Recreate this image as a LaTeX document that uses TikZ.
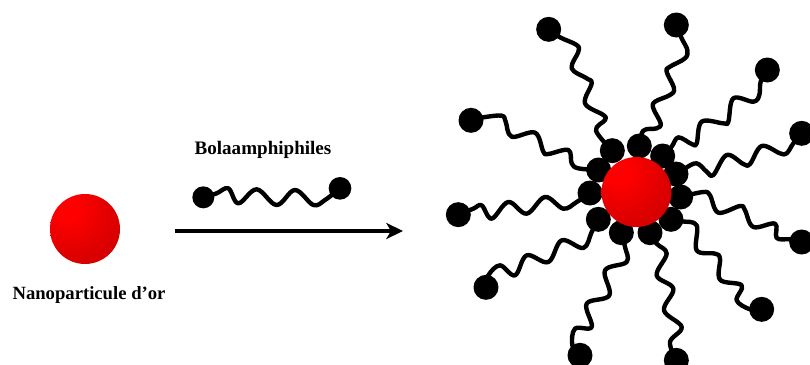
\documentclass[tikz,border=0pt]{standalone}
\usepackage{fontspec}
\setmainfont{Liberation Serif}
\usetikzlibrary{arrows.meta}
\pgfdeclarelayer{tails}
\pgfsetlayers{tails,main}
\definecolor{goldhi}{rgb}{1,0,0}
\definecolor{goldmid}{rgb}{0.88,0,0}
\definecolor{goldlo}{rgb}{0.78,0,0}
\pgfdeclareradialshading{goldball}{\pgfpoint{-14bp}{16bp}}{%
  color(0bp)=(goldhi);
  color(8bp)=(goldhi);
  color(28bp)=(goldmid);
  color(48bp)=(goldlo);
  color(100bp)=(goldlo)}
\tikzset{
  head/.style={circle,fill=black,inner sep=0pt,minimum size=#1},
  head/.default=18.75pt,
  gold/.style={circle,shading=goldball,inner sep=0pt,minimum size=52.5pt},
  tether/.style={line width=3.3pt,line join=round,line cap=round},
  label/.style={font=\bfseries\fontsize{#1}{#1}\selectfont,inner sep=0pt,anchor=center},
  fine/.style={x=.25pt,y=-.25pt}
}
\newcommand{\tether}[1]{%
  \begin{pgfonlayer}{tails}
    \draw[tether] plot[smooth,tension=.6] coordinates {#1};
  \end{pgfonlayer}}
\begin{document}
\begin{tikzpicture}[x=.75pt,y=-.75pt]
  \clip (0,0) rectangle (810,364);

  % free nanoparticle and its caption
  \node[gold] (np) at (85,229) {};
  \node[label=14] (npl) at (89,295) {Nanoparticule d'or};
  \node[label=14.3] (bl) at (263,149.5) {Bolaamphiphiles};

  % reaction arrow
  \coordinate (ra) at (175,231);
  \coordinate (rb) at (403,231);
  \draw[line width=3.3pt,-{Stealth[length=12.5pt,width=12pt,inset=3.5pt]}] (ra) -- (rb);

  % single bolaamphiphile
  \begin{scope}[shift={(0,130)},fine]
    \node[head=16.5pt] (la) at (610,202) {};
    \node[head=17pt] (lb) at (1020,175) {};
    \tether{(la) (650,190) (685,175) (715,220) (770,178) (830,225) (885,180) (940,225) (975,210) (lb)}
  \end{scope}

  % upper half of the coated particle
  \begin{scope}[shift={(440,0)},fine]
    \node[head] (sa) at (517,452) {};
    \node[head] (sb) at (598,438) {};
    \node[head] (sc) at (668,468) {};
    \node[head] (sd) at (708,522) {};
    \node[head] (se) at (476,510) {};
    \node[head] (ha) at (326,88) {};
    \node[head] (hb) at (709,75) {};
    \node[head] (hc) at (982,210) {};
    \node[head] (hd) at (1085,400) {};
    \node[head] (he) at (93,361) {};
    \tether{(ha) (360,112) (410,135) (415,155) (395,205) (440,235) (455,250) (435,310) (490,345) (495,360) (468,392) (sa)}
    \tether{(hb) (725,115) (742,150) (735,175) (690,200) (680,215) (702,265) (690,285) (645,305) (640,325) (662,370) (650,385) (610,392) (sb)}
    \tether{(hc) (962,245) (958,285) (940,305) (880,295) (865,365) (850,370) (785,365) (770,430) (755,432) (715,412) (695,440) (sc)}
    \tether{(hd) (1060,430) (1040,460) (1020,460) (965,438) (930,492) (910,492) (860,465) (820,525) (800,515) (770,490) (735,505) (sd)}
    \tether{(he) (130,352) (185,347) (197,365) (215,410) (285,398) (310,455) (325,462) (385,450) (395,490) (415,505) (se)}
  \end{scope}

  % lower half of the coated particle
  \begin{scope}[shift={(440,182)},fine]
    \node[head] (sf) at (722,45) {};
    \node[head] (sg) at (693,112) {};
    \node[head] (sh) at (630,152) {};
    \node[head] (si) at (544,152) {};
    \node[head] (sj) at (475,112) {};
    \node[head] (sk) at (450,33) {};
    \node[head] (hf) at (1085,180) {};
    \node[head] (hg) at (965,382) {};
    \node[head] (hh) at (709,535) {};
    \node[head] (hi) at (420,520) {};
    \node[head] (hj) at (138,316) {};
    \node[head] (hk) at (55,98) {};
    \tether{(hf) (1050,172) (1010,168) (1005,125) (940,135) (915,85) (900,72) (835,92) (810,40) (790,30) (sf)}
    \tether{(hg) (930,382) (890,355) (905,310) (840,293) (840,230) (825,215) (770,205) (770,130) (725,118) (sg)}
    \tether{(hh) (690,480) (725,435) (672,385) (700,320) (650,280) (680,215) (650,185) (sh)}
    \tether{(hi) (397,490) (405,440) (455,435) (440,365) (508,340) (495,265) (560,240) (555,195) (si)}
    \tether{(hj) (145,280) (180,250) (225,280) (260,220) (325,240) (365,175) (430,198) (455,150) (sj)}
    \tether{(hk) (100,80) (125,70) (155,110) (205,60) (260,95) (315,45) (370,80) (410,60) (sk)}
  \end{scope}

  % gold core on top of the head groups
  \node[gold] (core) at (636.5,192) {};
\end{tikzpicture}
\end{document}
